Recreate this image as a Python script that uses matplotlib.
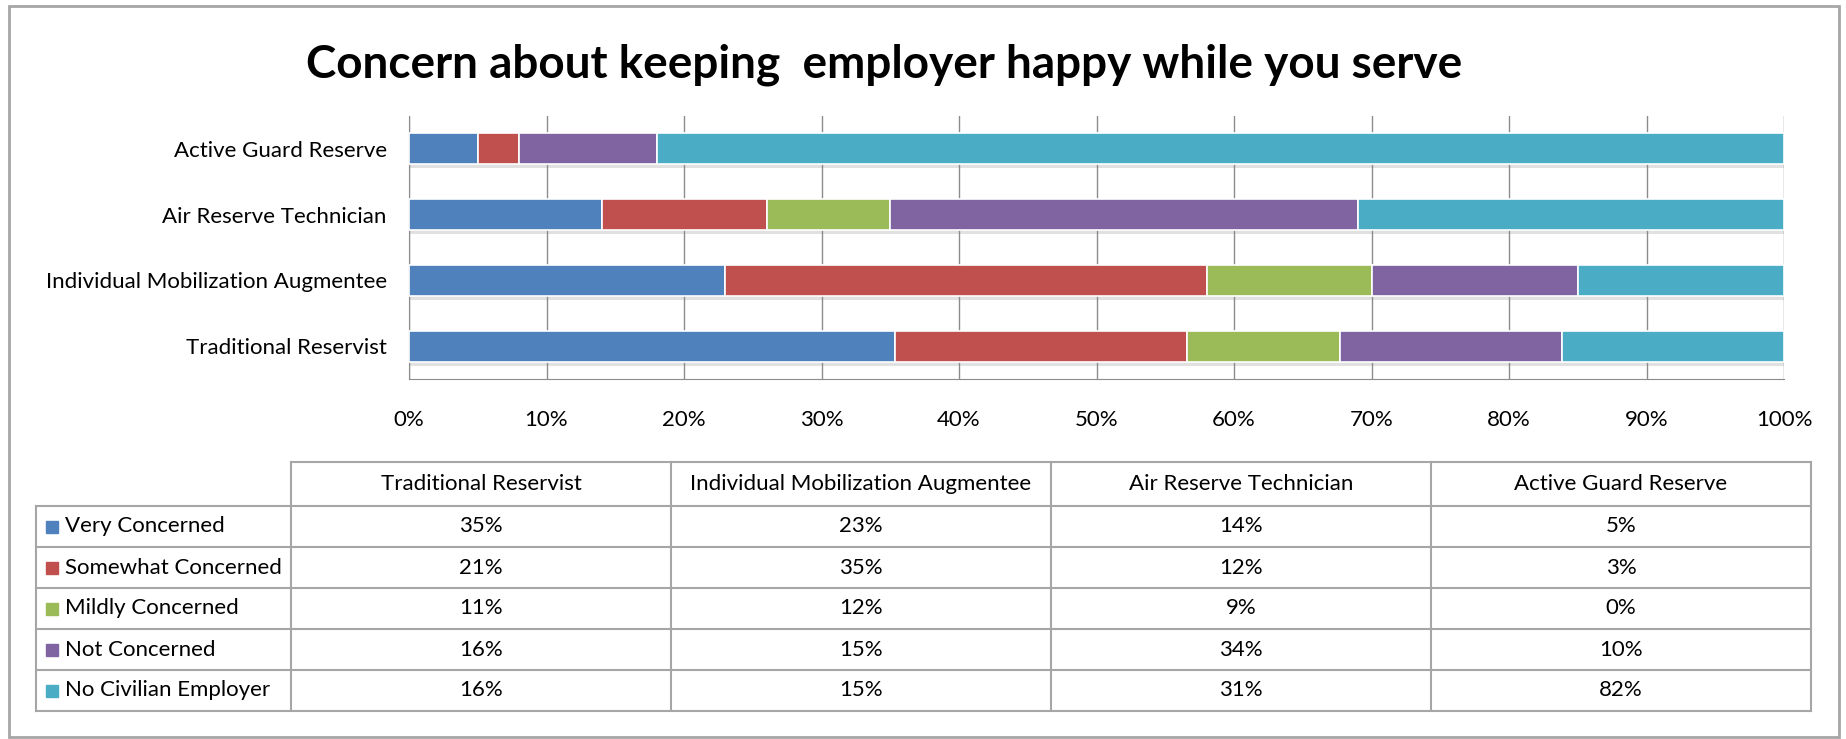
import numpy as np
import matplotlib.pyplot as plt
import matplotlib.patheffects as pe
from matplotlib.patches import Rectangle
from matplotlib.ticker import PercentFormatter

plt.rcParams['font.family'] = ['Lato', 'DejaVu Sans']

categories = ['Traditional Reservist', 'Individual Mobilization Augmentee',
              'Air Reserve Technician', 'Active Guard Reserve']
series = ['Very Concerned', 'Somewhat Concerned', 'Mildly Concerned',
          'Not Concerned', 'No Civilian Employer']
very = [35, 23, 14, 5]
somewhat = [21, 35, 12, 3]
mildly = [11, 12, 9, 0]
not_concerned = [16, 15, 34, 10]
no_employer = [16, 15, 31, 82]
colors = ['#4F81BD', '#C0504D', '#9BBB59', '#8064A2', '#4BACC6']

W, H = 1846, 739
fig = plt.figure(figsize=(W / 100, H / 100), dpi=100)


def box(x0, y0, x1, y1):
    # pixel box (top-left origin) -> figure fraction rect
    return [x0 / W, 1 - y1 / H, (x1 - x0) / W, (y1 - y0) / H]


# stacked 100% bar chart
ax = fig.add_axes(box(409, 116, 1784, 379))
data = np.array([very, somewhat, mildly, not_concerned, no_employer], dtype=float)
shares = data / data.sum(axis=0)
y = np.arange(len(categories))
left = np.zeros(len(categories))
shadow = [pe.SimplePatchShadow(offset=(0, -3), shadow_rgbFace='#8a8a8a', alpha=0.25),
          pe.Normal()]
for vals, c in zip(shares, colors):
    bars = ax.barh(y, vals, left=left, height=0.47, color=c,
                   edgecolor='white', linewidth=1.2, zorder=3)
    for b in bars:
        b.set_path_effects(shadow)
    left += vals

ax.set_xlim(0, 1)
ax.set_ylim(-0.5, 3.5)
ax.set_xticks(np.linspace(0, 1, 11))
ax.xaxis.set_major_formatter(PercentFormatter(1.0, decimals=0))
ax.grid(axis='x', color='#8c8c8c', linewidth=1)
ax.set_axisbelow(True)
ax.set_yticks(y, categories)
ax.tick_params(length=0, labelsize=16, colors='black')
ax.tick_params(axis='x', pad=22)
ax.tick_params(axis='y', pad=16)
for s in ['top', 'right']:
    ax.spines[s].set_visible(False)
for s in ['left', 'bottom']:
    ax.spines[s].set_color('#8c8c8c')

fig.text(884 / W, 1 - 77 / H, 'Concern about keeping  employer happy while you serve',
         fontsize=33, fontweight='bold', ha='center', va='baseline')

# data table under the chart, drawn in pixel coordinates
tab = fig.add_axes([0, 0, 1, 1])
tab.set_xlim(0, W)
tab.set_ylim(H, 0)
tab.axis('off')
col_edges = [36, 291, 671, 1051, 1431, 1811]
row_edges = [462, 506, 547, 588, 629, 670, 711]
lc = '#a6a6a6'
lw = 1.5

tab.plot([col_edges[1], col_edges[-1]], [row_edges[0]] * 2, color=lc, lw=lw)
for r in row_edges[1:]:
    tab.plot([col_edges[0], col_edges[-1]], [r, r], color=lc, lw=lw)
for i, cx in enumerate(col_edges):
    top = row_edges[0] if i > 0 else row_edges[1]
    tab.plot([cx, cx], [top, row_edges[-1]], color=lc, lw=lw)

for j, cat in enumerate(categories):
    cx = (col_edges[j + 1] + col_edges[j + 2]) / 2
    tab.text(cx, (row_edges[0] + row_edges[1]) / 2, cat, fontsize=16,
             ha='center', va='center')

for i, name in enumerate(series):
    cy = (row_edges[i + 1] + row_edges[i + 2]) / 2
    tab.add_patch(Rectangle((46, cy - 6), 12, 12, color=colors[i]))
    tab.text(65, cy, name, fontsize=16, ha='left', va='center')
    for j in range(len(categories)):
        cx = (col_edges[j + 1] + col_edges[j + 2]) / 2
        tab.text(cx, cy, f'{data[i, j]:.0f}%', fontsize=16, ha='center', va='center')

tab.add_patch(Rectangle((9, 6), 1830, 731, fill=False, edgecolor='#a6a6a6', lw=2))

fig.savefig('out.png', dpi=100)
